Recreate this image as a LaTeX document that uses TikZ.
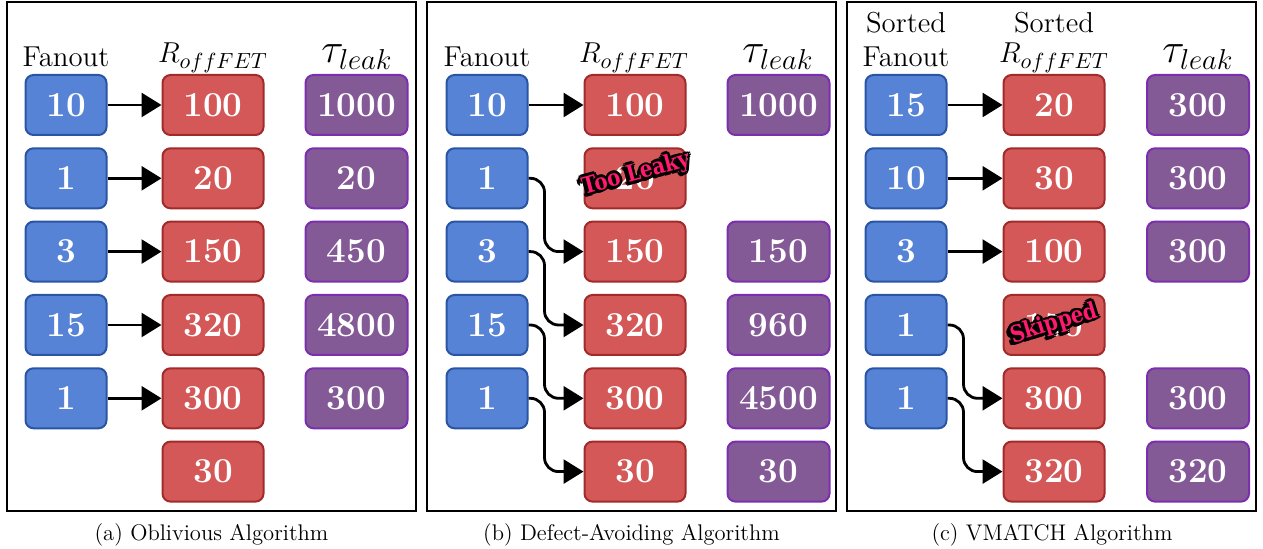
\documentclass[tikz,border=0pt]{standalone}
\usepackage{fontspec}
\usetikzlibrary{arrows.meta,calc}
\newfontfamily\stampfont{DejaVu Serif}
\definecolor{bfill}{HTML}{5683D5}
\definecolor{bdraw}{HTML}{2A55A5}
\definecolor{rfill}{HTML}{D45858}
\definecolor{rdraw}{HTML}{A12B2B}
\definecolor{pfill}{HTML}{835A96}
\definecolor{pdraw}{HTML}{7B2FAF}
\definecolor{stamppink}{HTML}{FF1A6E}
\newcommand{\mystamp}[4]{%
  \foreach \dx/\dy in {-1.3/0,1.3/0,0/-1.3,0/1.3,-0.9/-0.9,0.9/0.9,-0.9/0.9,0.9/-0.9,-1.6/-1.6,-1.9/-1.1,-1.1/-1.9}{
    \node[stampsty, text=black, rotate=#3] at ($(#2)+(\dx pt,\dy pt)$) {\scalebox{0.86}[1]{#4}};
  }
  \node[stampsty, text=stamppink, rotate=#3] (#1) at (#2) {\scalebox{0.86}[1]{#4}};
}
\begin{document}
\begin{tikzpicture}[x=0.5pt,y=-0.5pt,
  box/.style={rounded corners=4pt, line width=1pt, minimum height=30pt, inner sep=0pt, text=white, font=\fontsize{17.5}{20}\selectfont\bfseries},
  fbox/.style={box, fill=bfill, draw=bdraw, minimum width=40.5pt},
  rbox/.style={box, fill=rfill, draw=rdraw, minimum width=50.5pt},
  pbox/.style={box, fill=pfill, draw=pdraw, minimum width=51pt},
  hdr/.style={anchor=base, font=\fontsize{14.4}{17}\selectfont, inner sep=0pt},
  rhdr/.style={anchor=base, font=\fontsize{15.5}{18}\selectfont, inner sep=0pt},
  thdr/.style={anchor=base, font=\fontsize{22}{24}\selectfont, inner sep=0pt},
  capt/.style={anchor=base, font=\fontsize{11.3}{13}\selectfont, inner sep=0pt},
  frame/.style={draw, line width=0.7pt},
  conn/.style={line width=1.4pt, -{Triangle[length=10pt,width=12pt]}},
  bendconn/.style={conn, rounded corners=7pt},
  stampsty/.style={font=\stampfont\bfseries\fontsize{11.5}{12}\selectfont, inner sep=0pt}
]
\useasboundingbox (0,0) rectangle (1263,549);

% frames
\draw[frame] (7,2) rectangle (416,511);
\draw[frame] (427,2) rectangle (836,511);
\draw[frame] (847,2) rectangle (1256,511);

% ---------- panel (a) ----------
\node[hdr] (a-h1) at (66,67) {Fanout};
\node[rhdr] (a-h2) at (213,63) {$R_{offFET}$};
\node[thdr] (a-h3) at (357,63) {$\tau_{leak}$};

\node[fbox] (a-f1) at (66,105) {10};
\node[fbox] (a-f2) at (66,178.3) {1};
\node[fbox] (a-f3) at (66,251.6) {3};
\node[fbox] (a-f4) at (66,325) {15};
\node[fbox] (a-f5) at (66,398.3) {1};

\node[rbox] (a-r1) at (213,105) {100};
\node[rbox] (a-r2) at (213,178.3) {20};
\node[rbox] (a-r3) at (213,251.6) {150};
\node[rbox] (a-r4) at (213,325) {320};
\node[rbox] (a-r5) at (213,398.3) {300};
\node[rbox] (a-r6) at (213,471.6) {30};

\node[pbox] (a-p1) at (356.5,105) {1000};
\node[pbox] (a-p2) at (356.5,178.3) {20};
\node[pbox] (a-p3) at (356.5,251.6) {450};
\node[pbox] (a-p4) at (356.5,325) {4800};
\node[pbox] (a-p5) at (356.5,398.3) {300};

\draw[conn] (a-f1) -- (a-r1);
\draw[conn] (a-f2) -- (a-r2);
\draw[conn] (a-f3) -- (a-r3);
\draw[conn] (a-f4) -- (a-r4);
\draw[conn] (a-f5) -- (a-r5);

\node[capt] (a-cap) at (211.5,540) {(a) Oblivious Algorithm};

% ---------- panel (b) ----------
\node[hdr] (b-h1) at (487,67) {Fanout};
\node[rhdr] (b-h2) at (634,63) {$R_{offFET}$};
\node[thdr] (b-h3) at (778,63) {$\tau_{leak}$};

\node[fbox] (b-f1) at (487,105) {10};
\node[fbox] (b-f2) at (487,178.3) {1};
\node[fbox] (b-f3) at (487,251.6) {3};
\node[fbox] (b-f4) at (487,325) {15};
\node[fbox] (b-f5) at (487,398.3) {1};

\node[rbox] (b-r1) at (635,105) {100};
\node[rbox] (b-r2) at (635,178.3) {20};
\node[rbox] (b-r3) at (635,251.6) {150};
\node[rbox] (b-r4) at (635,325) {320};
\node[rbox] (b-r5) at (635,398.3) {300};
\node[rbox] (b-r6) at (635,471.6) {30};

\node[pbox] (b-p1) at (778.5,105) {1000};
\node[pbox] (b-p3) at (778.5,251.6) {150};
\node[pbox] (b-p4) at (778.5,325) {960};
\node[pbox] (b-p5) at (778.5,398.3) {4500};
\node[pbox] (b-p6) at (778.5,471.6) {30};

\draw[conn] (b-f1) -- (b-r1);
\draw[bendconn] (b-f2.east) -- ++(16,0) |- (b-r3.west);
\draw[bendconn] (b-f3.east) -- ++(16,0) |- (b-r4.west);
\draw[bendconn] (b-f4.east) -- ++(16,0) |- (b-r5.west);
\draw[bendconn] (b-f5.east) -- ++(16,0) |- (b-r6.west);

\mystamp{b-stamp}{636,174}{15}{Too Leaky}

\node[capt] (b-cap) at (631.5,540) {(b) Defect-Avoiding Algorithm};

% ---------- panel (c) ----------
\node[hdr] (c-h1a) at (906,33) {Sorted};
\node[hdr] (c-h1b) at (906,67) {Fanout};
\node[hdr] (c-h2a) at (1054,33) {Sorted};
\node[rhdr] (c-h2b) at (1054,63) {$R_{offFET}$};
\node[thdr] (c-h3) at (1198,63) {$\tau_{leak}$};

\node[fbox] (c-f1) at (906,105) {15};
\node[fbox] (c-f2) at (906,178.3) {10};
\node[fbox] (c-f3) at (906,251.6) {3};
\node[fbox] (c-f4) at (906,325) {1};
\node[fbox] (c-f5) at (906,398.3) {1};

\node[rbox] (c-r1) at (1054,105) {20};
\node[rbox] (c-r2) at (1054,178.3) {30};
\node[rbox] (c-r3) at (1054,251.6) {100};
\node[rbox] (c-r4) at (1054,325) {150};
\node[rbox] (c-r5) at (1054,398.3) {300};
\node[rbox] (c-r6) at (1054,471.6) {320};

\node[pbox] (c-p1) at (1198,105) {300};
\node[pbox] (c-p2) at (1198,178.3) {300};
\node[pbox] (c-p3) at (1198,251.6) {300};
\node[pbox] (c-p5) at (1198,398.3) {300};
\node[pbox] (c-p6) at (1198,471.6) {320};

\draw[conn] (c-f1) -- (c-r1);
\draw[conn] (c-f2) -- (c-r2);
\draw[conn] (c-f3) -- (c-r3);
\draw[bendconn] (c-f4.east) -- ++(16,0) |- (c-r5.west);
\draw[bendconn] (c-f5.east) -- ++(16,0) |- (c-r6.west);

\mystamp{c-stamp}{1054,324}{17}{Skipped}

\node[capt] (c-cap) at (1052,540) {(c) VMATCH Algorithm};
\end{tikzpicture}
\end{document}
